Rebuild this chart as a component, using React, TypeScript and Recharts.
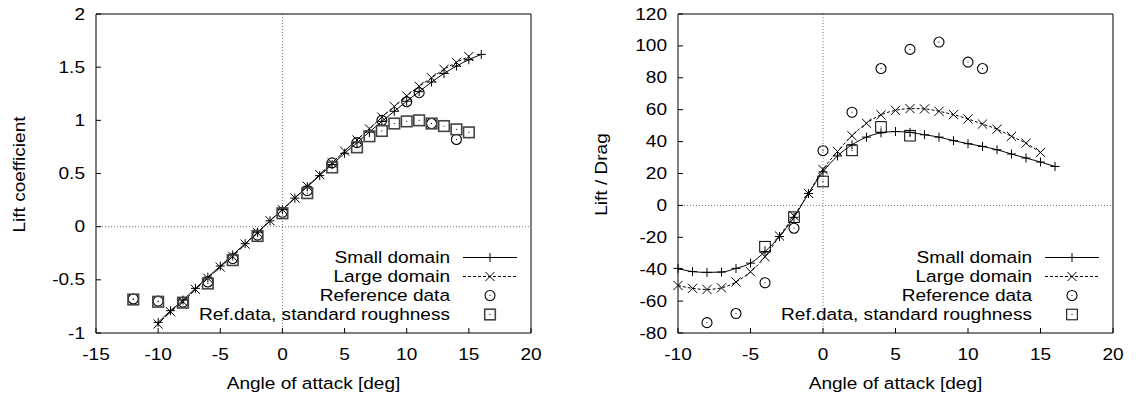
import React from 'react';
import { ComposedChart, Line, Scatter, XAxis, YAxis, ReferenceLine } from 'recharts';

const FONT = '"Liberation Sans", Arial, Helvetica, sans-serif';
const FS = 16.3;
const SX = 1.17; // gnuplot text is a bit wider than Arial

// ---- lift coefficient (left panel) ----
const liftSmallAoa = [-10, -9, -8, -7, -6, -5, -4, -3, -2, -1, 0, 1, 2, 3, 4, 5, 6, 7, 8, 9, 10, 11, 12, 13, 14, 15, 16];
const liftSmall = [-0.9, -0.79, -0.69, -0.58, -0.475, -0.37, -0.265, -0.16, -0.052, 0.055, 0.16, 0.268, 0.375, 0.48, 0.585, 0.69, 0.79, 0.89, 0.99, 1.085, 1.18, 1.27, 1.36, 1.44, 1.51, 1.57, 1.62];
const liftLargeAoa = [-10, -9, -8, -7, -6, -5, -4, -3, -2, -1, 0, 1, 2, 3, 4, 5, 6, 7, 8, 9, 10, 11, 12, 13, 14, 15];
const liftLarge = [-0.915, -0.8, -0.705, -0.59, -0.485, -0.38, -0.28, -0.165, -0.057, 0.055, 0.16, 0.27, 0.38, 0.49, 0.6, 0.71, 0.815, 0.92, 1.03, 1.13, 1.23, 1.32, 1.4, 1.48, 1.545, 1.6];
const liftRefAoa = [-12, -10, -8, -6, -4, -2, 0, 2, 4, 6, 8, 10, 11, 12, 14];
const liftRef = [-0.68, -0.7, -0.71, -0.52, -0.3, -0.08, 0.135, 0.34, 0.6, 0.79, 1.0, 1.175, 1.26, 0.97, 0.82];
const liftRoughAoa = [-12, -10, -8, -6, -4, -2, 0, 2, 4, 6, 7, 8, 9, 10, 11, 12, 13, 14, 15];
const liftRough = [-0.685, -0.706, -0.715, -0.535, -0.315, -0.088, 0.126, 0.315, 0.557, 0.746, 0.85, 0.9, 0.97, 0.99, 1.0, 0.97, 0.946, 0.915, 0.887];

// ---- lift / drag (right panel) ----
const ldSmallAoa = liftSmallAoa;
const ldSmall = [-39.5, -41.5, -42, -41.8, -39.5, -36.2, -29, -19.5, -7.5, 7.5, 21, 31, 38, 42.8, 45.5, 46.3, 45.8, 44.3, 42.8, 40.6, 38.7, 37, 34.9, 32.2, 29.7, 27.2, 24.4];
const ldLargeAoa = liftLargeAoa;
const ldLarge = [-50.2, -52, -52.7, -51.7, -48, -41.6, -32.2, -19.2, -6.5, 7.5, 22.5, 33.8, 43.7, 51.5, 56.8, 59.6, 60.7, 60.5, 59, 56.9, 54.2, 51, 47.8, 43.3, 39, 33.2];
const ldRefAoa = [-8, -6, -4, -2, 0, 2, 4, 6, 8, 10, 11];
const ldRef = [-73.5, -67.8, -48.5, -14.3, 34.3, 58.4, 85.8, 97.8, 102.4, 89.8, 85.8];
const ldRoughAoa = [-4, -2, 0, 2, 4, 6];
const ldRough = [-25.9, -7.4, 15, 34.5, 49.2, 43.7];

const liftXTicks = [-15, -10, -5, 0, 5, 10, 15, 20];
const liftYTicks = [-1, -0.5, 0, 0.5, 1, 1.5, 2];
const ldXTicks = [-10, -5, 0, 5, 10, 15, 20];
const ldYTicks = [-80, -60, -40, -20, 0, 20, 40, 60, 80, 100, 120];

const legendNames = ['Small domain', 'Large domain', 'Reference data', 'Ref.data, standard roughness'];

const rows = (xs: number[], ys: number[]) => xs.map((x, i) => ({ x, y: ys[i] }));

const plus = (cx: number, cy: number, key?: any) => (
  <path key={key} d={`M${cx - 4.5},${cy}H${cx + 4.5}M${cx},${cy - 4.5}V${cy + 4.5}`} stroke="#000" strokeWidth={1} fill="none" />
);
const cross = (cx: number, cy: number, key?: any) => (
  <path key={key} d={`M${cx - 4.6},${cy - 4.6}L${cx + 4.6},${cy + 4.6}M${cx + 4.6},${cy - 4.6}L${cx - 4.6},${cy + 4.6}`} stroke="#000" strokeWidth={1} fill="none" />
);
const circ = (cx: number, cy: number, key?: any) => (
  <g key={key}>
    <circle cx={cx} cy={cy} r={5} stroke="#000" strokeWidth={1.1} fill="none" />
    <rect x={cx - 0.5} y={cy - 0.5} width={1} height={1} fill="#000" />
  </g>
);
const square = (color: string, sw: number) => (cx: number, cy: number, key?: any) => (
  <g key={key}>
    <rect x={cx - 5.3} y={cy - 5.3} width={10.6} height={10.6} stroke={color} strokeWidth={sw} fill="none" />
    <rect x={cx - 0.5} y={cy - 0.5} width={1} height={1} fill="#000" />
  </g>
);

const XTick = (p: any) => (
  <text transform={`translate(${p.x},${p.y}) scale(${SX},1)`} textAnchor="middle" dominantBaseline="central" fontFamily={FONT} fontSize={FS} fill="#000">
    {p.payload.value}
  </text>
);
const YTick = (p: any) => (
  <text transform={`translate(${p.x},${p.y}) scale(${SX},1)`} textAnchor="end" dominantBaseline="central" fontFamily={FONT} fontSize={FS} fill="#000">
    {p.payload.value}
  </text>
);

type PanelProps = {
  left: number;
  width: number;
  plotLeft: number;
  plotRight: number;
  xDomain: [number, number];
  yDomain: [number, number];
  xTicks: number[];
  yTicks: number[];
  small: { x: number; y: number }[];
  large: { x: number; y: number }[];
  reference: { x: number; y: number }[];
  rough: { x: number; y: number }[];
  yTitle: string;
  squareColor: string;
  squareWidth: number;
};

const TOP = 14;
const BOTTOM = 333;
const H = 396;

function Panel(props: PanelProps) {
  const { left, width, plotLeft, plotRight, xDomain, yDomain, xTicks, yTicks } = props;
  const sq = square(props.squareColor, props.squareWidth);
  const legendRows = [TOP + 243.5, TOP + 262.5, TOP + 281.5, TOP + 300.5];
  const textRight = plotRight - 81;
  const sampleL = plotRight - 68;
  const sampleR = plotRight - 14;
  const sampleC = (sampleL + sampleR) / 2;
  const plotMid = (plotLeft + plotRight) / 2;

  return (
    <div style={{ position: 'absolute', left, top: 0, width, height: H }}>
      <ComposedChart
        width={width}
        height={H}
        margin={{ top: TOP - 1, left: plotLeft - 1, right: width - plotRight - 1, bottom: H - BOTTOM - 1 }}
      >
        <XAxis
          xAxisId="b"
          dataKey="x"
          type="number"
          domain={xDomain}
          ticks={xTicks}
          interval={0}
          height={1}
          stroke="#000"
          tickSize={-5}
          tickMargin={26}
          tick={<XTick />}
        />
        <XAxis xAxisId="t" orientation="top" dataKey="x" type="number" domain={xDomain} ticks={xTicks} interval={0} height={1} stroke="#000" tickSize={-5} tick={false} />
        <YAxis
          yAxisId="l"
          dataKey="y"
          type="number"
          domain={yDomain}
          ticks={yTicks}
          interval={0}
          width={1}
          stroke="#000"
          tickSize={-5}
          tickMargin={16}
          tick={<YTick />}
        />
        <YAxis yAxisId="r" orientation="right" dataKey="y" type="number" domain={yDomain} ticks={yTicks} interval={0} width={1} stroke="#000" tickSize={-5} tick={false} />
        <ReferenceLine xAxisId="b" yAxisId="l" x={0} stroke="#777" strokeDasharray="1 2" />
        <ReferenceLine xAxisId="b" yAxisId="l" y={0} stroke="#777" strokeDasharray="1 2" />
        <Line
          xAxisId="b"
          yAxisId="l"
          data={props.small}
          dataKey="y"
          type="monotone"
          stroke="#000"
          strokeWidth={1}
          dot={(p: any) => plus(p.cx, p.cy, `s${p.index}`)}
          activeDot={false}
          isAnimationActive={false}
        />
        <Line
          xAxisId="b"
          yAxisId="l"
          data={props.large}
          dataKey="y"
          type="monotone"
          stroke="#000"
          strokeWidth={1}
          strokeDasharray="3 2"
          dot={(p: any) => cross(p.cx, p.cy, `l${p.index}`)}
          activeDot={false}
          isAnimationActive={false}
        />
        <Scatter xAxisId="b" yAxisId="l" data={props.reference} dataKey="y" shape={(p: any) => circ(p.cx, p.cy)} isAnimationActive={false} />
        <Scatter xAxisId="b" yAxisId="l" data={props.rough} dataKey="y" shape={(p: any) => sq(p.cx, p.cy)} isAnimationActive={false} />
      </ComposedChart>

      <svg width={width} height={H} style={{ position: 'absolute', left: 0, top: 0, pointerEvents: 'none' }}>
        <text transform={`translate(${plotMid},${BOTTOM + 50}) scale(${SX},1)`} textAnchor="middle" dominantBaseline="central" fontFamily={FONT} fontSize={FS} fill="#000">
          Angle of attack [deg]
        </text>
        <text transform={`translate(${plotLeft - 77},${(TOP + BOTTOM) / 2 + 1}) rotate(-90) scale(${SX},1)`} textAnchor="middle" dominantBaseline="central" fontFamily={FONT} fontSize={FS} fill="#000">
          {props.yTitle}
        </text>
        {legendNames.map((name, i) => (
          <g key={name}>
            <text transform={`translate(${textRight},${legendRows[i]}) scale(${SX},1)`} textAnchor="end" dominantBaseline="central" fontFamily={FONT} fontSize={FS} fill="#000">
              {name}
            </text>
            {i === 0 && <line x1={sampleL} x2={sampleR} y1={legendRows[i]} y2={legendRows[i]} stroke="#000" />}
            {i === 1 && <line x1={sampleL} x2={sampleR} y1={legendRows[i]} y2={legendRows[i]} stroke="#000" strokeDasharray="3 2" />}
            {i === 0 && plus(sampleC, legendRows[i])}
            {i === 1 && cross(sampleC, legendRows[i])}
            {i === 2 && circ(sampleC, legendRows[i])}
            {i === 3 && sq(sampleC, legendRows[i])}
          </g>
        ))}
      </svg>
    </div>
  );
}

export default function App() {
  return (
    <div style={{ position: 'absolute', left: 0, top: 0, width: 1138, height: H, background: '#fff', overflow: 'hidden' }}>
      <Panel
        left={0}
        width={570}
        plotLeft={96}
        plotRight={531}
        xDomain={[-15, 20]}
        yDomain={[-1, 2]}
        xTicks={liftXTicks}
        yTicks={liftYTicks}
        small={rows(liftSmallAoa, liftSmall)}
        large={rows(liftLargeAoa, liftLarge)}
        reference={rows(liftRefAoa, liftRef)}
        rough={rows(liftRoughAoa, liftRough)}
        yTitle="Lift coefficient"
        squareColor="#444"
        squareWidth={1.6}
      />
      <Panel
        left={570}
        width={568}
        plotLeft={108}
        plotRight={543}
        xDomain={[-10, 20]}
        yDomain={[-80, 120]}
        xTicks={ldXTicks}
        yTicks={ldYTicks}
        small={rows(ldSmallAoa, ldSmall)}
        large={rows(ldLargeAoa, ldLarge)}
        reference={rows(ldRefAoa, ldRef)}
        rough={rows(ldRoughAoa, ldRough)}
        yTitle="Lift / Drag"
        squareColor="#000"
        squareWidth={1}
      />
    </div>
  );
}
